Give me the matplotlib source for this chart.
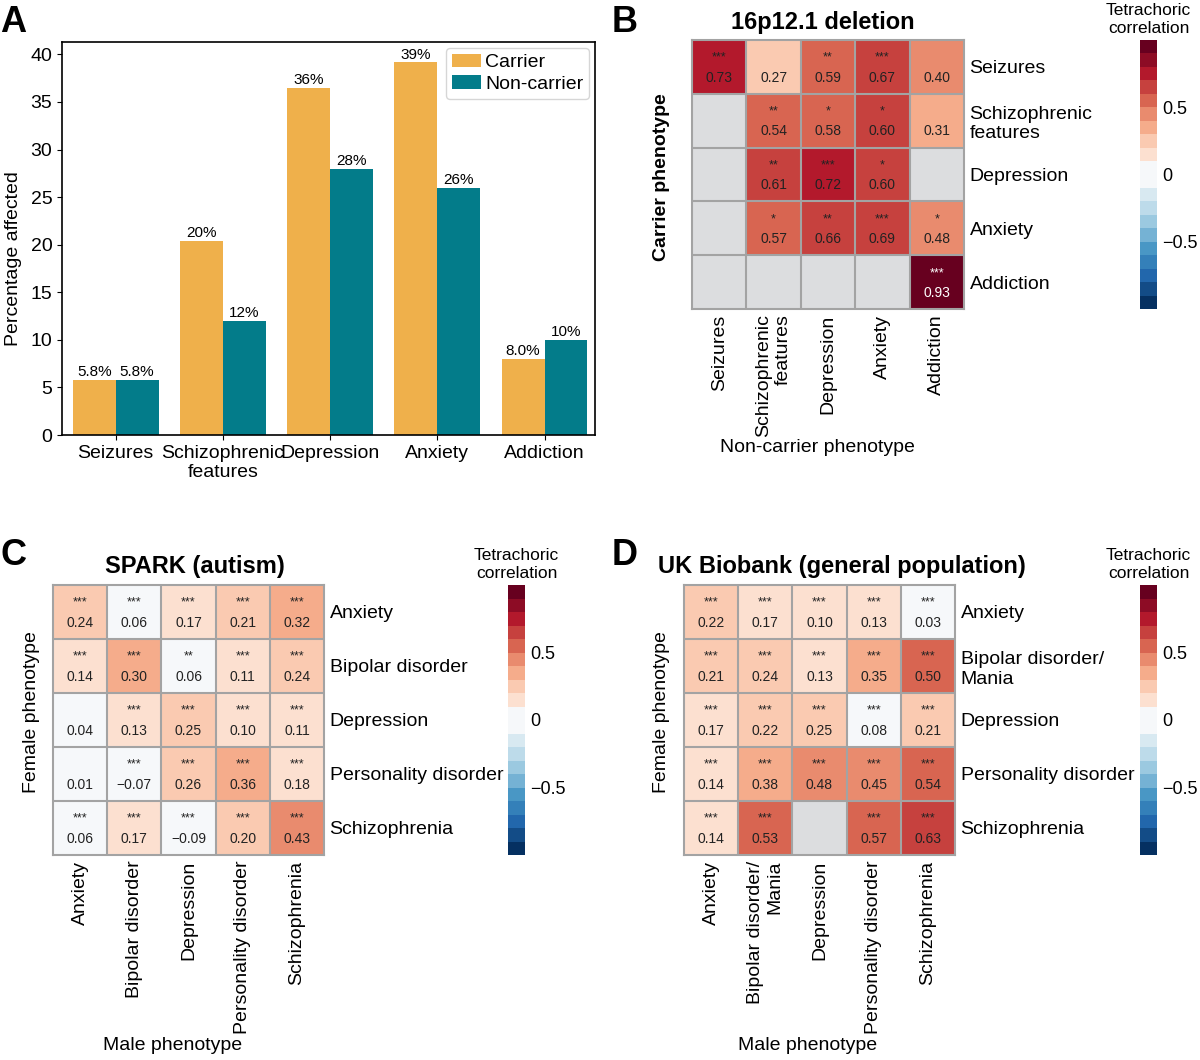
import numpy as np
import matplotlib
matplotlib.use('Agg')
import matplotlib.pyplot as plt
from matplotlib.colors import Normalize, ListedColormap
from matplotlib.cm import ScalarMappable

plt.rcParams['font.family'] = ['Liberation Sans', 'DejaVu Sans']

nan = np.nan

# ---------------- Data ----------------
bar_categories = ['Seizures', 'Schizophrenic\nfeatures', 'Depression', 'Anxiety', 'Addiction']
carrier_pct = [5.8, 20.4, 36.5, 39.2, 8.0]
noncarrier_pct = [5.8, 12.0, 28.0, 26.0, 10.0]
carrier_labels = ['5.8%', '20%', '36%', '39%', '8.0%']
noncarrier_labels = ['5.8%', '12%', '28%', '26%', '10%']

b_labels = ['Seizures', 'Schizophrenic\nfeatures', 'Depression', 'Anxiety', 'Addiction']
b_corr = [[0.73, 0.27, 0.59, 0.67, 0.40],
          [nan, 0.54, 0.58, 0.60, 0.31],
          [nan, 0.61, 0.72, 0.60, nan],
          [nan, 0.57, 0.66, 0.69, 0.48],
          [nan, nan, nan, nan, 0.93]]
b_stars = [['***', '', '**', '***', ''],
           ['', '**', '*', '*', ''],
           ['', '**', '***', '*', ''],
           ['', '*', '**', '***', '*'],
           ['', '', '', '', '***']]

c_labels = ['Anxiety', 'Bipolar disorder', 'Depression', 'Personality disorder', 'Schizophrenia']
c_corr = [[0.24, 0.06, 0.17, 0.21, 0.32],
          [0.14, 0.30, 0.06, 0.11, 0.24],
          [0.04, 0.13, 0.25, 0.10, 0.11],
          [0.01, -0.07, 0.26, 0.36, 0.18],
          [0.06, 0.17, -0.09, 0.20, 0.43]]
c_stars = [['***', '***', '***', '***', '***'],
           ['***', '***', '**', '***', '***'],
           ['', '***', '***', '***', '***'],
           ['', '***', '***', '***', '***'],
           ['***', '***', '***', '***', '***']]

d_labels = ['Anxiety', 'Bipolar disorder/\nMania', 'Depression', 'Personality disorder', 'Schizophrenia']
d_corr = [[0.22, 0.17, 0.10, 0.13, 0.03],
          [0.21, 0.24, 0.13, 0.35, 0.50],
          [0.17, 0.22, 0.25, 0.08, 0.21],
          [0.14, 0.38, 0.48, 0.45, 0.54],
          [0.14, 0.53, nan, 0.57, 0.63]]
d_stars = [['***', '***', '***', '***', '***'],
           ['***', '***', '***', '***', '***'],
           ['***', '***', '***', '***', '***'],
           ['***', '***', '***', '***', '***'],
           ['***', '***', '', '***', '***']]

cbar_ticks = [-0.5, 0, 0.5]
cbar_ticklabels = ['\u22120.5', '0', '0.5']

# ---------------- Style ----------------
ORANGE = '#EFB04B'
TEAL = '#037C8A'
GRID = '#a3a3a3'
NANC = '#dcdddf'
_cols = plt.get_cmap('RdBu_r')(np.linspace(0, 1, 20))
_cols[9] = matplotlib.colors.to_rgba('#F6F8FA')
_cols[10] = matplotlib.colors.to_rgba('#F6F8FA')
cmap = ListedColormap(_cols)
norm = Normalize(vmin=-1, vmax=1)

W, H = 1200, 1060
fig = plt.figure(figsize=(12, 10.6), dpi=100)


def ax_px(x0, y0, x1, y1):
    return fig.add_axes([x0 / W, 1 - y1 / H, (x1 - x0) / W, (y1 - y0) / H])


def ftext(x, y, s, **kw):
    return fig.text(x / W, 1 - y / H, s, **kw)


# ---------------- Panel A ----------------
axA = ax_px(62, 42, 595, 435)
x = np.arange(len(bar_categories))
bw = 0.4
axA.bar(x - bw / 2, carrier_pct, bw, color=ORANGE, label='Carrier')
axA.bar(x + bw / 2, noncarrier_pct, bw, color=TEAL, label='Non-carrier')
for xi, v, lab in zip(x, carrier_pct, carrier_labels):
    axA.text(xi - bw / 2, v + 0.05, lab, ha='center', va='bottom', fontsize=11)
for xi, v, lab in zip(x, noncarrier_pct, noncarrier_labels):
    axA.text(xi + bw / 2, v + 0.05, lab, ha='center', va='bottom', fontsize=11)
axA.set_xlim(-0.5, 4.47)
axA.set_ylim(0, 41.3)
axA.set_yticks(np.arange(0, 41, 5))
axA.set_xticks(x)
axA.set_xticklabels(bar_categories, fontsize=14)
axA.tick_params(axis='y', labelsize=14)
axA.set_ylabel('Percentage affected', fontsize=14)
axA.yaxis.set_label_coords(-0.075, 0.45)
for s in axA.spines.values():
    s.set_linewidth(1.2)
leg = axA.legend(loc='upper right', fontsize=14, handlelength=1.5, handletextpad=0.2,
                 borderpad=0.3, labelspacing=0.2, borderaxespad=0.3, fancybox=True)
leg.get_frame().set_edgecolor('#cccccc')


# ---------------- Heatmaps ----------------
def heatmap(ax, data, stars, xlabels, ylabels):
    arr = np.array(data, dtype=float)
    n = arr.shape[0]
    ax.set_facecolor(NANC)
    ax.pcolormesh(np.arange(n + 1), np.arange(n + 1), np.ma.masked_invalid(arr),
                  cmap=cmap, norm=norm)
    ax.set_xlim(0, n)
    ax.set_ylim(n, 0)
    for k in range(1, n):
        ax.axhline(k, color=GRID, lw=1.5)
        ax.axvline(k, color=GRID, lw=1.5)
    for s in ax.spines.values():
        s.set_color(GRID)
        s.set_linewidth(1.5)
    ax.set_xticks(np.arange(n) + 0.5)
    ax.set_xticklabels(xlabels, rotation=90, fontsize=14)
    for t in ax.get_xticklabels():
        t.set_multialignment('right')
    ax.yaxis.tick_right()
    ax.set_yticks(np.arange(n) + 0.5)
    ax.set_yticklabels(ylabels, fontsize=14)
    ax.tick_params(length=0, pad=4)
    for i in range(n):
        for j in range(n):
            v = arr[i, j]
            if np.isnan(v):
                continue
            col = 'white' if v > 0.85 else '#222222'
            if stars[i][j]:
                ax.text(j + 0.5, i + 0.33, stars[i][j], ha='center', va='center',
                        fontsize=9, color=col)
            ax.text(j + 0.5, i + 0.70, f'{v:.2f}'.replace('-', '\u2212'),
                    ha='center', va='center', fontsize=10, color=col)


def colorbar(x0, y0, x1, y1):
    cax = ax_px(x0, y0, x1, y1)
    sm = ScalarMappable(norm=norm, cmap=cmap)
    cb = fig.colorbar(sm, cax=cax)
    cb.outline.set_visible(False)
    cb.set_ticks(cbar_ticks)
    cb.set_ticklabels(cbar_ticklabels)
    cax.tick_params(length=0, labelsize=13, pad=4)
    ftext((x0 + x1) / 2, y0 - 4, 'Tetrachoric\ncorrelation', ha='center', va='bottom',
          fontsize=12.5, linespacing=1.25)
    return cb


# Panel B
axB = ax_px(692, 40, 964, 309)
heatmap(axB, b_corr, b_stars, b_labels, b_labels)
colorbar(1140, 40, 1157, 309)
ftext(823, 22, '16p12.1 deletion', ha='center', va='center', fontsize=17, fontweight='bold')
ftext(662, 177, 'Carrier phenotype', ha='center', va='center', rotation=90,
      fontsize=14, fontweight='bold')
ftext(817, 448, 'Non-carrier phenotype', ha='center', va='center', fontsize=14)

# Panel C
axC = ax_px(53, 585, 324, 855)
heatmap(axC, c_corr, c_stars, c_labels, c_labels)
colorbar(508, 585, 525, 855)
ftext(195, 567, 'SPARK (autism)', ha='center', va='center', fontsize=17, fontweight='bold')
ftext(32, 712, 'Female phenotype', ha='center', va='center', rotation=90, fontsize=14)
ftext(173, 1045, 'Male phenotype', ha='center', va='center', fontsize=14)

# Panel D
axD = ax_px(684, 585, 955, 855)
heatmap(axD, d_corr, d_stars, d_labels, d_labels)
colorbar(1140, 585, 1157, 855)
ftext(842, 567, 'UK Biobank (general population)', ha='center', va='center',
      fontsize=17, fontweight='bold')
ftext(662, 712, 'Female phenotype', ha='center', va='center', rotation=90, fontsize=14)
ftext(808, 1045, 'Male phenotype', ha='center', va='center', fontsize=14)

# Panel letters
for lx, ly, L in [(0, 5, 'A'), (612, 5, 'B'), (0, 538, 'C'), (612, 538, 'D')]:
    ftext(lx, ly, L, ha='left', va='top', fontsize=26, fontweight='bold')

fig.savefig('out.png', dpi=100)
